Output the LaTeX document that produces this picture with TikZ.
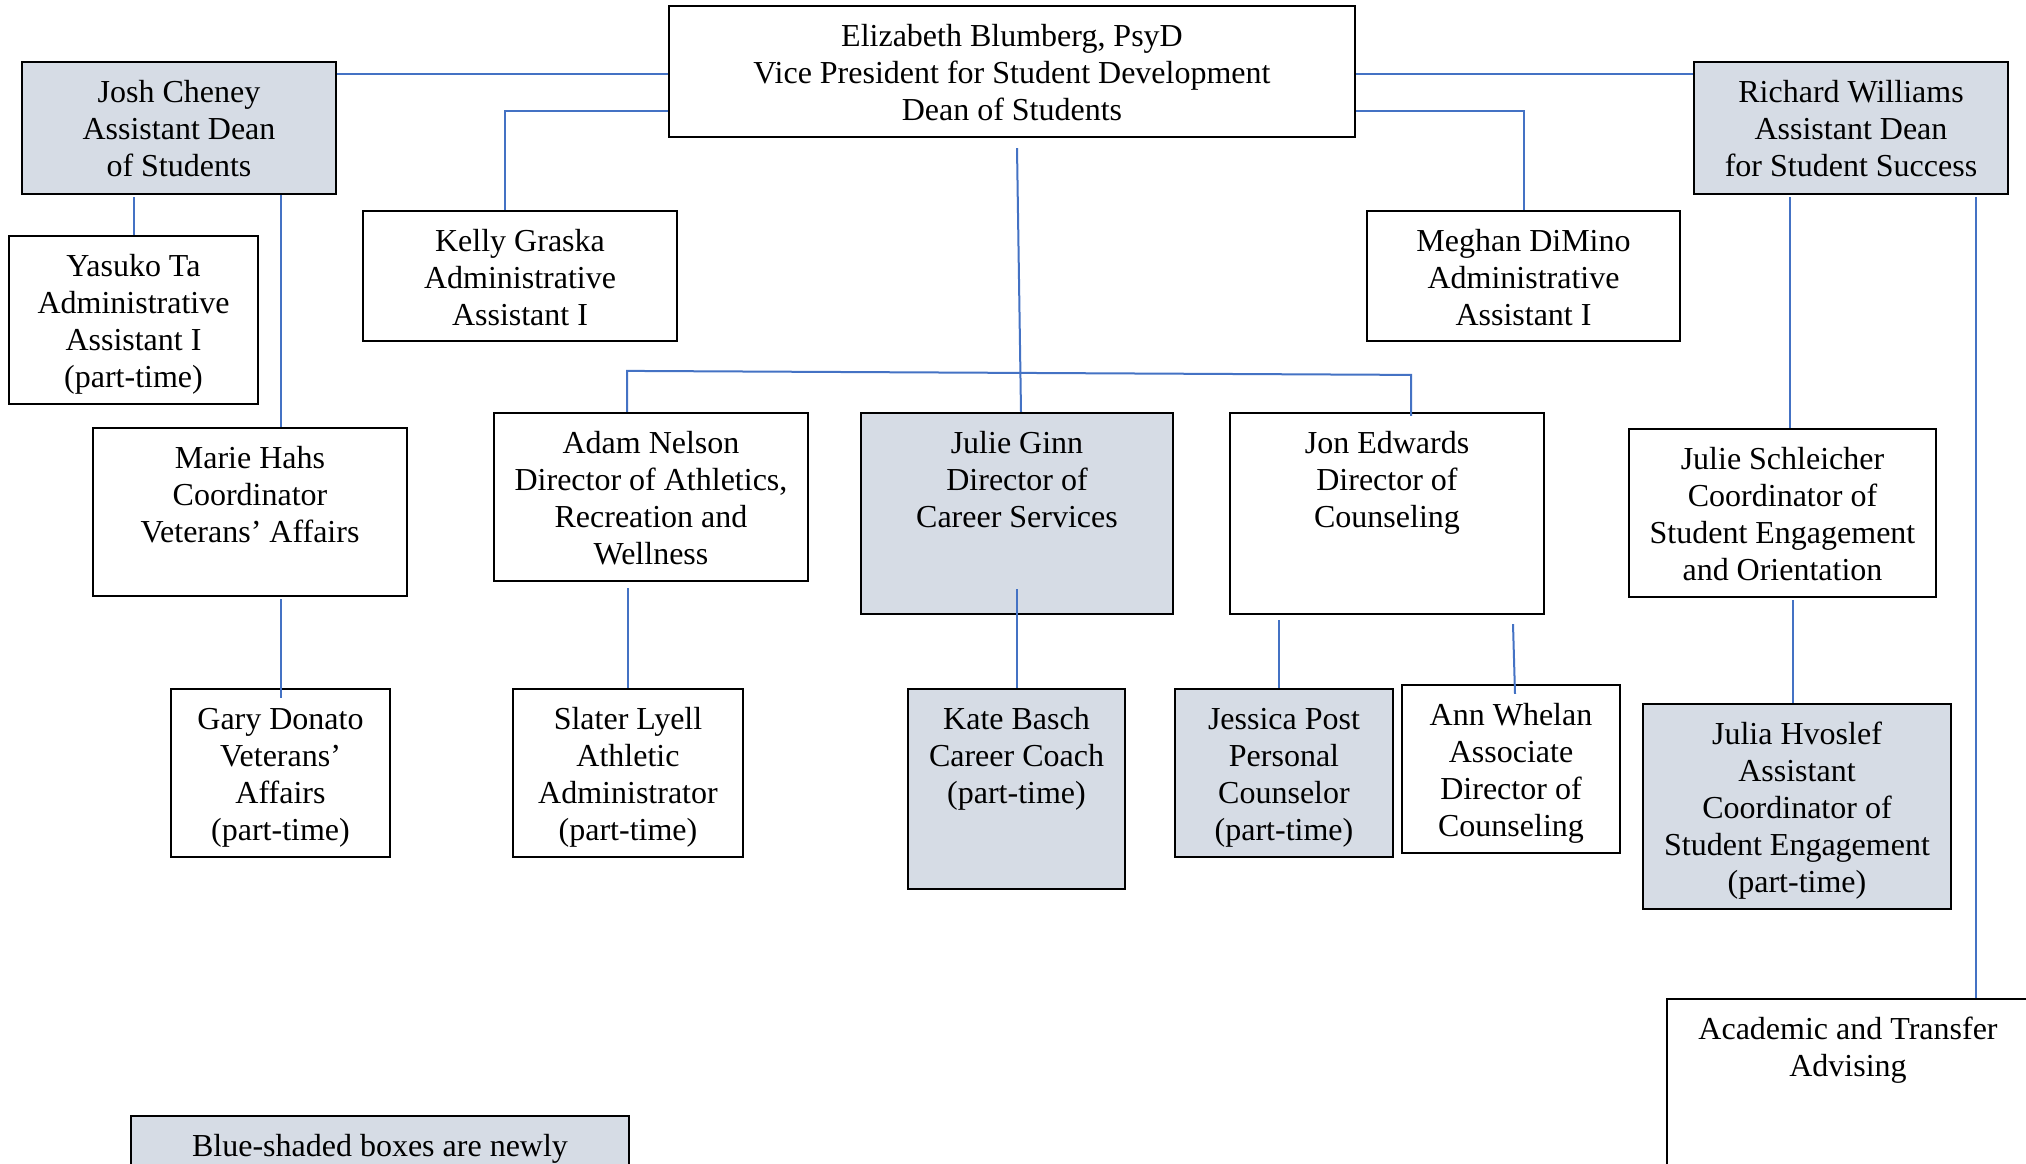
\documentclass[tikz,border=0pt]{standalone}
\usepackage{fontspec}
\setmainfont{Liberation Serif}
\definecolor{linkblue}{HTML}{4472C4}
\definecolor{newfill}{HTML}{D6DCE5}
\tikzset{
  orgbox/.style={draw=black, line width=2.2pt, fill=white, inner sep=0pt},
  newbox/.style={orgbox, fill=newfill},
  boxtext/.style={align=center, inner sep=0pt, anchor=north, font=\fontsize{32}{37}\selectfont},
  conn/.style={draw=linkblue, line width=2pt}
}
\begin{document}
\begin{tikzpicture}[x=1pt,y=-1pt]
\useasboundingbox (0,0) rectangle (2026,1163);
\fill[white] (0,0) rectangle (2026,1163);
% boxes
\node[orgbox, minimum width=686pt, minimum height=131pt] (eliz) at (1012,71.5) {};
\node[newbox, minimum width=314pt, minimum height=132pt] (josh) at (179,128) {};
\node[newbox, minimum width=314pt, minimum height=132pt] (rich) at (1851,128) {};
\node[orgbox, minimum width=249pt, minimum height=168pt] (yasuko) at (133.5,320) {};
\node[orgbox, minimum width=314pt, minimum height=130pt] (kelly) at (520,276) {};
\node[orgbox, minimum width=313pt, minimum height=130pt] (meghan) at (1523.5,276) {};
\node[orgbox, minimum width=314pt, minimum height=168pt] (marie) at (250,512) {};
\node[orgbox, minimum width=314pt, minimum height=168pt] (adam) at (651,497) {};
\node[newbox, minimum width=312pt, minimum height=201pt] (ginn) at (1017,513.5) {};
\node[orgbox, minimum width=314pt, minimum height=201pt] (jon) at (1387,513.5) {};
\node[orgbox, minimum width=307pt, minimum height=168pt] (schl) at (1782.5,513) {};
\node[orgbox, minimum width=219pt, minimum height=168pt] (gary) at (280.5,773) {};
\node[orgbox, minimum width=230pt, minimum height=168pt] (slater) at (628,773) {};
\node[newbox, minimum width=217pt, minimum height=200pt] (kate) at (1016.5,789) {};
\node[newbox, minimum width=218pt, minimum height=168pt] (jessica) at (1284,773) {};
\node[orgbox, minimum width=218pt, minimum height=168pt] (ann) at (1511,769) {};
\node[newbox, minimum width=308pt, minimum height=205pt] (julia) at (1797,806.5) {};
\node[orgbox, minimum width=362pt, minimum height=251pt] (acad) at (1848,1124.5) {};
\node[newbox, minimum width=498pt, minimum height=136pt] (legend) at (380,1184) {};
% texts
\node[boxtext] (elizT) at ([yshift=-15pt]eliz.north) {\strut Elizabeth Blumberg, PsyD\\Vice President for Student Development\\Dean of Students};
\node[boxtext] (joshT) at ([yshift=-15pt]josh.north) {\strut Josh Cheney\\Assistant Dean\\of Students};
\node[boxtext] (richT) at ([yshift=-15pt]rich.north) {\strut Richard Williams\\Assistant Dean\\for Student Success};
\node[boxtext] (yasukoT) at ([yshift=-15pt]yasuko.north) {\strut Yasuko Ta\\Administrative\\Assistant I\\(part-time)};
\node[boxtext] (kellyT) at ([yshift=-15pt]kelly.north) {\strut Kelly Graska\\Administrative\\Assistant I};
\node[boxtext] (meghanT) at ([yshift=-15pt]meghan.north) {\strut Meghan DiMino\\Administrative\\Assistant I};
\node[boxtext] (marieT) at ([yshift=-15pt]marie.north) {\strut Marie Hahs\\Coordinator\\Veterans’ Affairs};
\node[boxtext] (adamT) at ([yshift=-15pt]adam.north) {\strut Adam Nelson\\Director of Athletics,\\Recreation and\\Wellness};
\node[boxtext] (ginnT) at ([yshift=-15pt]ginn.north) {\strut Julie Ginn\\Director of\\Career Services};
\node[boxtext] (jonT) at ([yshift=-15pt]jon.north) {\strut Jon Edwards\\Director of\\Counseling};
\node[boxtext] (schlT) at ([yshift=-15pt]schl.north) {\strut Julie Schleicher\\Coordinator of\\Student Engagement\\and Orientation};
\node[boxtext] (garyT) at ([yshift=-15pt]gary.north) {\strut Gary Donato\\Veterans’\\Affairs\\(part-time)};
\node[boxtext] (slaterT) at ([yshift=-15pt]slater.north) {\strut Slater Lyell\\Athletic\\Administrator\\(part-time)};
\node[boxtext] (kateT) at ([yshift=-15pt]kate.north) {\strut Kate Basch\\Career Coach\\(part-time)};
\node[boxtext] (jessicaT) at ([yshift=-15pt]jessica.north) {\strut Jessica Post\\Personal\\Counselor\\(part-time)};
\node[boxtext] (annT) at ([yshift=-15pt]ann.north) {\strut Ann Whelan\\Associate\\Director of\\Counseling};
\node[boxtext] (juliaT) at ([yshift=-15pt]julia.north) {\strut Julia Hvoslef\\Assistant\\Coordinator of\\Student Engagement\\(part-time)};
\node[boxtext] (acadT) at ([yshift=-15pt]acad.north) {\strut Academic and Transfer\\Advising};
\node[boxtext] (legendT) at ([yshift=-15pt]legend.north) {\strut Blue-shaded boxes are newly};
% connectors
\draw[conn] ([yshift=-13pt]josh.north east) -- ([yshift=-69pt]eliz.north west);
\draw[conn] ([yshift=-69pt]eliz.north east) -- ([yshift=-13pt]rich.north west);
\draw[conn] ([yshift=-106pt]eliz.north west) -| ([xshift=-15pt]kelly.north);
\draw[conn] ([yshift=-106pt]eliz.north east) -| (meghan.north);
\draw[conn] (yasuko.north) -- ([yshift=-2pt]yasuko.north |- josh.south);
\draw[conn] (gary.north |- marie.north) -- (gary.north |- josh.south);
\draw[conn] ([yshift=-10pt]gary.north) -- ([yshift=-2pt]gary.north |- marie.south);
\draw[conn] ([xshift=5pt,yshift=-10pt]eliz.south) -- ([xshift=4pt]ginn.north);
\draw[conn] ([xshift=-24pt]adam.north) -- ([xshift=-24pt,yshift=41pt]adam.north) -- ([xshift=24pt,yshift=37pt]jon.north) -- ([xshift=24pt,yshift=-4pt]jon.north);
\draw[conn] (slater.north) -- ([yshift=-6pt]slater.north |- adam.south);
\draw[conn] (kate.north) -- ([yshift=26pt]kate.north |- ginn.south);
\draw[conn] ([xshift=-5pt]jessica.north) -- ([xshift=-5pt,yshift=-5pt]jessica.north |- jon.south);
\draw[conn] ([xshift=2pt,yshift=-9pt]ann.north |- jon.south) -- ([xshift=4pt,yshift=-10pt]ann.north);
\draw[conn] ([xshift=7pt]schl.north) -- ([xshift=7pt,yshift=-2pt]schl.north |- rich.south);
\draw[conn] ([xshift=-4pt]julia.north) -- ([xshift=-4pt,yshift=-2pt]julia.north |- schl.south);
\draw[conn] ([xshift=128pt]acad.north) -- ([xshift=128pt,yshift=-2pt]acad.north |- rich.south);
\end{tikzpicture}
\end{document}
